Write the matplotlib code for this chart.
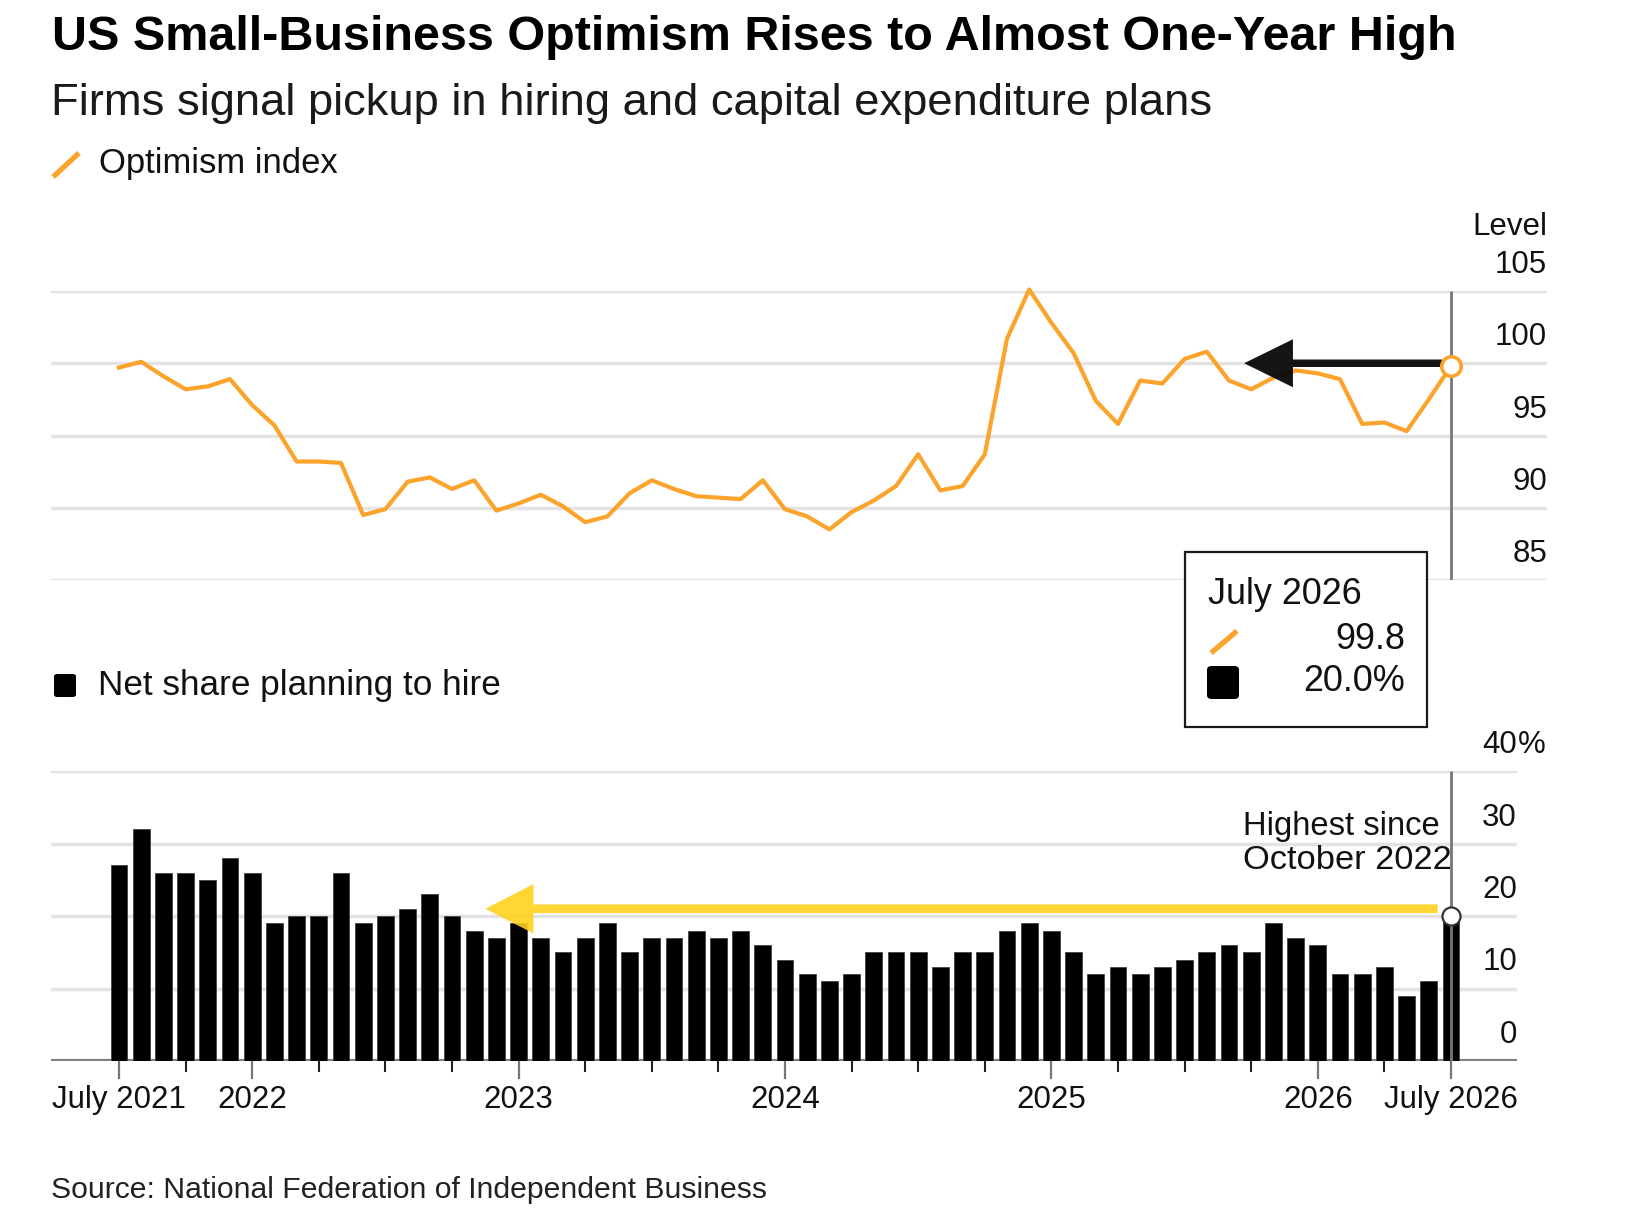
import matplotlib
matplotlib.use("Agg")
import matplotlib.pyplot as plt
from matplotlib.patches import Rectangle, FancyBboxPatch, FancyArrow
from matplotlib.lines import Line2D

plt.rcParams['font.family'] = ['Liberation Sans', 'DejaVu Sans']

# ---------------- data ----------------
optimism = [99.7, 100.1, 99.1, 98.2, 98.4, 98.9, 97.1, 95.7, 93.2, 93.2,
            93.1, 89.5, 89.9, 91.8, 92.1, 91.3, 91.9, 89.8, 90.3, 90.9,
            90.1, 89.0, 89.4, 91.0, 91.9, 91.3, 90.8, 90.7, 90.6, 91.9,
            89.9, 89.4, 88.5, 89.7, 90.5, 91.5, 93.7, 91.2, 91.5, 93.7,
            101.7, 105.1, 102.8, 100.7, 97.4, 95.8, 98.8, 98.6, 100.3, 100.8,
            98.8, 98.2, 99.0, 99.5, 99.3, 98.9, 95.8, 95.9, 95.3, 97.5,
            99.8]
hiring = [27, 32, 26, 26, 25, 28, 26, 19, 20, 20,
          26, 19, 20, 21, 23, 20, 18, 17, 19, 17,
          15, 17, 19, 15, 17, 17, 18, 17, 18, 16,
          14, 12, 11, 12, 15, 15, 15, 13, 15, 15,
          18, 19, 18, 15, 12, 13, 12, 13, 14, 15,
          16, 15, 19, 17, 16, 12, 12, 13, 9, 11,
          20]
x_idx = list(range(len(optimism)))
xtick_pos = [0, 6, 18, 30, 42, 54, 60]
xtick_labels = ["July 2021", "2022", "2023", "2024", "2025", "2026", "July 2026"]
top_ticks = [85, 90, 95, 100, 105]
bot_ticks = [0, 10, 20, 30, 40]

ORANGE = '#FCA32C'
YELLOW = '#FFD21E'
GRID = '#E3E3E3'

W, H = 1650, 1230
fig = plt.figure(figsize=(W / 100, H / 100), dpi=100)
renderer = fig.canvas.get_renderer()

X0, X60 = 119.0, 1451.0
D = (X60 - X0) / 60.0


def axes_px(left, top, right, bottom):
    return fig.add_axes([left / W, 1 - bottom / H, (right - left) / W, (bottom - top) / H])


def ftext(x, y, s, width=None, size=22.5, ha='left', **kw):
    t = fig.text(x / W, 1 - y / H, s, fontsize=size, ha=ha, va='baseline', **kw)
    if width:
        bb = t.get_window_extent(renderer)
        t.set_fontsize(size * width / bb.width)
    return t


# ---------------- top panel ----------------
T_L, T_T, T_R, T_B = 51, 291, 1547, 580
ax1 = axes_px(T_L, T_T, T_R, T_B)
ax1.set_xlim((T_L - X0) / D, (T_R - X0) / D)
ax1.set_ylim(top_ticks[0], top_ticks[-1])
ax1.axis('off')
for v in top_ticks:
    ax1.axhline(v, color=GRID, lw=2.5, zorder=1)
    ax1.annotate(str(v), xy=(1, v), xycoords=('axes fraction', 'data'),
                 xytext=(0, 18), textcoords='offset pixels', ha='right',
                 va='baseline', fontsize=22.5, color='#111')
last = x_idx[-1]
ax1.plot([last, last], [top_ticks[0], top_ticks[-1]], color='#777777', lw=2, zorder=2,
         solid_capstyle='butt')
ax1.plot(x_idx, optimism, color=ORANGE, lw=3, zorder=3, clip_on=False,
         solid_joinstyle='round')
# black annotation arrow
ty_px = (T_B - T_T) / (top_ticks[-1] - top_ticks[0])
arr_tip = 50.68
arr_start = last - 0.4
ax1.add_patch(FancyArrow(arr_start, 100.0, arr_tip - arr_start, 0,
                         width=7.5 / ty_px, head_width=48 / ty_px, head_length=2.2,
                         length_includes_head=True, color='#080808', alpha=0.95,
                         lw=0, zorder=4, clip_on=False))
ax1.plot([last], [optimism[-1]], 'o', ms=14, mfc='white', mec=ORANGE, mew=2.6,
         zorder=5, clip_on=False)

# ---------------- bottom panel ----------------
B_L, B_T, B_R, B_B = 51, 771, 1517, 1061
ax2 = axes_px(B_L, B_T, B_R, B_B)
ax2.set_xlim((B_L - X0) / D, (B_R - X0) / D)
ax2.set_ylim(bot_ticks[0], bot_ticks[-1])
ax2.axis('off')
by_px = (B_B - B_T) / (bot_ticks[-1] - bot_ticks[0])
for v in bot_ticks[1:]:
    ax2.axhline(v, color=GRID, lw=2.5, zorder=0)
ax2.axhline(0, color='#808080', lw=3, zorder=1)
for v in bot_ticks:
    ax2.annotate(str(v), xy=(1, v), xycoords=('axes fraction', 'data'),
                 xytext=(0, 18), textcoords='offset pixels', ha='right',
                 va='baseline', fontsize=22.5, color='#111')
ax2.annotate('%', xy=(1, bot_ticks[-1]), xycoords=('axes fraction', 'data'),
             xytext=(1, 18), textcoords='offset pixels', ha='left',
             va='baseline', fontsize=22.5, color='#111')
ax2.bar(x_idx, hiring, width=0.76, color='black', edgecolor='#444444', lw=0.6, zorder=2)
ax2.plot([last, last], [0, bot_ticks[-1]], color='#777777', lw=2, zorder=3,
         solid_capstyle='butt')
# x ticks
for i in range(0, len(hiring), 3):
    if i in xtick_pos:
        continue
    ax2.plot([i, i], [0, -10 / by_px], color='#222222', lw=1.5, clip_on=False, zorder=1)
for i, lab in zip(xtick_pos, xtick_labels):
    ax2.plot([i, i], [0, -17 / by_px], color='#777777', lw=1.6, clip_on=False, zorder=1)
    ax2.annotate(lab, xy=(i, 0), xycoords='data', xytext=(0, -47),
                 textcoords='offset pixels', ha='center', va='baseline',
                 fontsize=22.5, color='#111')
# yellow annotation arrow
y_arrow = 21.0
ax2.add_patch(FancyArrow(last - 0.6, y_arrow, 16.5 - (last - 0.6), 0,
                         width=8.7 / by_px, head_width=6.8, head_length=2.17,
                         length_includes_head=True, color=YELLOW, alpha=0.9,
                         lw=0, zorder=4, clip_on=False))
ax2.plot([last], [hiring[-1]], 'o', ms=13, mfc='white', mec='#333333', mew=1.6,
         zorder=5, clip_on=False)

# ---------------- texts ----------------
ftext(52, 50, "US Small-Business Optimism Rises to Almost One-Year High",
      width=1404, size=36, fontweight='bold', color='black')
ftext(51, 115, "Firms signal pickup in hiring and capital expenditure plans",
      width=1160, size=30, color='#1a1a1a')
ftext(99, 173, "Optimism index", width=239, size=24, color='#111')
ftext(98.5, 695, "Net share planning to hire", width=402, size=24, color='#111')
ftext(51, 1198, "Source: National Federation of Independent Business",
      width=716, size=19, color='#222')
ftext(1547, 235, "Level", size=22.5, ha='right', color='#111')
ftext(1243, 835, "Highest since", width=197, size=23, color='#111', zorder=6)
ftext(1243, 869, "October 2022", width=209, size=23, color='#111', zorder=6)

# legend icons
fig.add_artist(Line2D([53 / W, 79 / W], [1 - 177 / H, 1 - 153 / H],
                      color=ORANGE, lw=3.8, solid_capstyle='butt'))
fig.add_artist(FancyBboxPatch((54 / W, 1 - 697 / H), 22 / W, 23 / H,
                              boxstyle='round,pad=0,rounding_size=0.002',
                              fc='black', ec='none', transform=fig.transFigure))

# tooltip box
fig.add_artist(Rectangle((1185 / W, 1 - 727 / H), (1427 - 1185) / W, (727 - 552) / H,
                         fc='white', ec='#1a1a1a', lw=1.6, transform=fig.transFigure,
                         zorder=7))
t = ftext(1208, 604, "July 2026", width=154, size=25, color='#111', zorder=8)
ftext(1405, 649, f"{optimism[-1]:.1f}", size=t.get_fontsize(), ha='right',
      color='#111', zorder=8)
ftext(1405, 691, f"{hiring[-1]:.1f}%", size=t.get_fontsize(), ha='right',
      color='#111', zorder=8)
fig.add_artist(Line2D([1211 / W, 1237 / W], [1 - 653 / H, 1 - 631 / H],
                      color=ORANGE, lw=3.8, solid_capstyle='butt', zorder=8))
fig.add_artist(FancyBboxPatch((1207 / W, 1 - 699 / H), 32 / W, 33 / H,
                              boxstyle='round,pad=0,rounding_size=0.003',
                              fc='black', ec='none', transform=fig.transFigure,
                              zorder=8))

fig.savefig("out.png", dpi=100, facecolor='white')
